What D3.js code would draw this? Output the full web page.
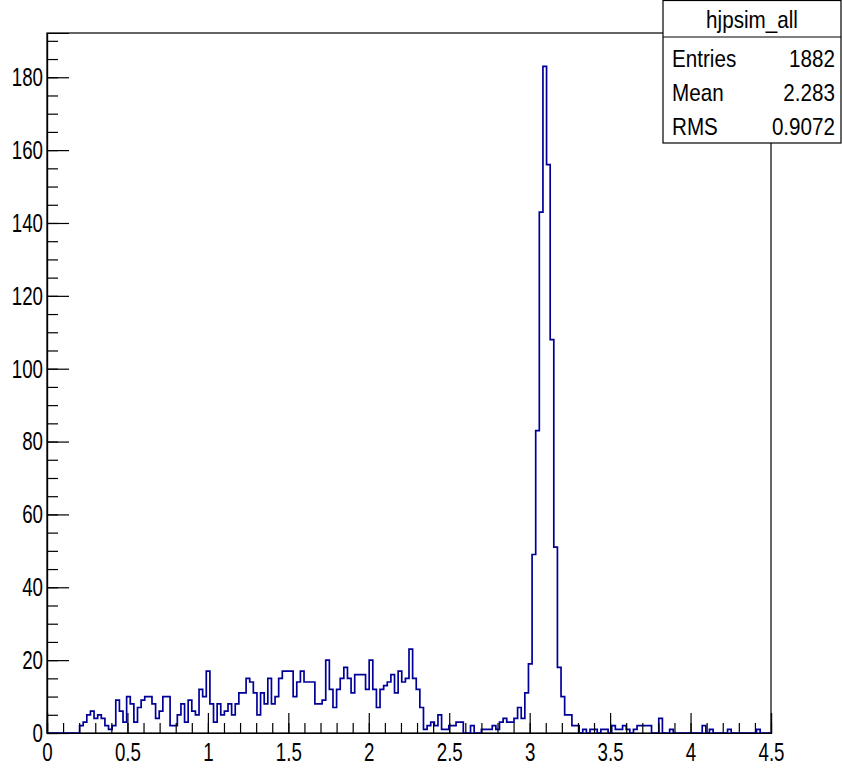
<!DOCTYPE html>
<html>
<head>
<meta charset="utf-8">
<script src="https://cdn.jsdelivr.net/npm/d3@7"></script>
<style>
  html, body { margin: 0; padding: 0; background: #ffffff; }
  svg { display: block; }
  text { font-family: "Liberation Sans", Arial, Helvetica, sans-serif; fill: #000; }
</style>
</head>
<body>
<svg id="chart" width="842" height="768"></svg>
<script>
// Histogram hjpsim_all: 200 bins on [0, 4.5]
const histName = "hjpsim_all";
const xRange = [0, 4.5];
const nBins = 200;
const binCounts = [
  0, 0, 0, 0, 0, 0, 0, 0, 0, 2,
  3, 5, 6, 4, 5, 4, 2, 1, 2, 9,
  6, 3, 10, 8, 3, 7, 9, 10, 10, 8,
  4, 6, 10, 10, 2, 2, 5, 8, 3, 9,
  6, 5, 12, 10, 17, 8, 3, 8, 5, 6,
  8, 5, 8, 11, 11, 15, 14, 11, 5, 11,
  8, 15, 8, 10, 15, 17, 17, 17, 10, 14,
  17, 14, 14, 14, 8, 8, 9, 20, 12, 7,
  12, 15, 18, 15, 11, 16, 16, 16, 12, 20,
  12, 7, 12, 13, 14, 16, 11, 17, 14, 15,
  23, 15, 12, 7, 1, 2, 3, 2, 5, 1,
  1, 2, 2, 3, 3, 0, 0, 2, 0, 0,
  1, 1, 1, 2, 1, 3, 4, 3, 3, 4,
  7, 4, 11, 19, 49, 83, 143, 183, 156, 108,
  51, 18, 10, 5, 5, 2, 2, 0, 1, 0,
  1, 1, 0, 1, 1, 0, 2, 1, 1, 2,
  1, 0, 1, 2, 2, 2, 2, 0, 0, 4,
  0, 0, 1, 0, 0, 0, 0, 0, 0, 0,
  0, 2, 0, 1, 0, 0, 0, 0, 1, 0,
  0, 0, 0, 0, 0, 0, 1, 0, 0, 0
];

// Axis tick values
const xMajorTicks = [0, 0.5, 1, 1.5, 2, 2.5, 3, 3.5, 4, 4.5];
const xMinorTicks = d3.range(0, 45).map(i => i / 10);
const yMajorTicks = [0, 20, 40, 60, 80, 100, 120, 140, 160, 180];
const yMinorTicks = d3.range(0, 39).map(i => i * 5);

// Statistics box
const statLabels = ["Entries", "Mean", "RMS"];
const statValues = ["1882", "2.283", "0.9072"];

const frame = { left: 47, right: 771, top: 33, bottom: 733 };
const yMax = d3.max(binCounts) * 1.05;
const lineColor = "#000099";
const labelScaleX = 0.72;
const statScaleX = 0.86;

const svg = d3.select("#chart");

const x = d3.scaleLinear().domain(xRange).range([frame.left, frame.right]);
const y = d3.scaleLinear().domain([0, yMax]).range([frame.bottom, frame.top]);

// Frame
svg.append("rect")
  .attr("x", frame.left).attr("y", frame.top)
  .attr("width", frame.right - frame.left)
  .attr("height", frame.bottom - frame.top)
  .attr("fill", "none").attr("stroke", "#000").attr("stroke-width", 1.2);

// Histogram outline as a step path
const binWidth = (xRange[1] - xRange[0]) / nBins;
const pts = [[xRange[0], 0]];
binCounts.forEach((c, i) => {
  const lo = xRange[0] + i * binWidth;
  pts.push([lo, c], [lo + binWidth, c]);
});
pts.push([xRange[1], 0]);

svg.append("path")
  .datum(pts)
  .attr("fill", "none")
  .attr("stroke", lineColor)
  .attr("stroke-width", 1.7)
  .attr("stroke-linejoin", "miter")
  .attr("d", d3.line().x(d => x(d[0])).y(d => y(d[1])));

// X axis: minor ticks, then major ticks with labels (ticks point into the frame)
const xMinor = svg.append("g")
  .attr("transform", `translate(0,${frame.bottom})`)
  .call(d3.axisBottom(x).tickValues(xMinorTicks).tickSize(-10).tickFormat(""));
const xMajor = svg.append("g")
  .attr("transform", `translate(0,${frame.bottom})`)
  .call(d3.axisBottom(x).tickValues(xMajorTicks).tickSize(-20).tickPadding(10)
    .tickFormat(d3.format("")));

// Y axis
const yMinor = svg.append("g")
  .attr("transform", `translate(${frame.left},0)`)
  .call(d3.axisLeft(y).tickValues(yMinorTicks).tickSize(-11).tickFormat(""));
const yMajor = svg.append("g")
  .attr("transform", `translate(${frame.left},0)`)
  .call(d3.axisLeft(y).tickValues(yMajorTicks).tickSize(-22).tickPadding(4)
    .tickFormat(d3.format("")));

[xMinor, xMajor, yMinor, yMajor].forEach(g => {
  g.select(".domain").attr("stroke", "#000").attr("stroke-width", 1.2);
  g.selectAll(".tick line").attr("stroke", "#000").attr("stroke-width", 1.2);
});

xMajor.selectAll(".tick text")
  .attr("font-size", 26)
  .attr("font-family", "Liberation Sans, Arial, sans-serif")
  .attr("transform", `scale(${labelScaleX},1)`);
yMajor.selectAll(".tick text")
  .attr("font-size", 26)
  .attr("font-family", "Liberation Sans, Arial, sans-serif")
  .attr("x", -4 / labelScaleX)
  .attr("transform", `scale(${labelScaleX},1)`);

// Statistics box
const box = { x0: 663, x1: 841, y0: 0.5, y1: 143, sep: 37 };
const stats = svg.append("g");
stats.append("rect")
  .attr("x", box.x0).attr("y", box.y0)
  .attr("width", box.x1 - box.x0).attr("height", box.y1 - box.y0)
  .attr("fill", "#fff").attr("stroke", "#000").attr("stroke-width", 1.2);
stats.append("line")
  .attr("x1", box.x0).attr("x2", box.x1)
  .attr("y1", box.sep).attr("y2", box.sep)
  .attr("stroke", "#000").attr("stroke-width", 1.2);

const cx = (box.x0 + box.x1) / 2;
stats.append("text")
  .attr("transform", `translate(${cx},28) scale(${statScaleX},1)`)
  .attr("text-anchor", "middle")
  .attr("font-size", 24)
  .text(histName);

const rowBase = [67, 101, 135];
statLabels.forEach((lab, i) => {
  stats.append("text")
    .attr("transform", `translate(672,${rowBase[i]}) scale(${statScaleX},1)`)
    .attr("font-size", 24)
    .text(lab);
  stats.append("text")
    .attr("transform", `translate(835,${rowBase[i]}) scale(${statScaleX},1)`)
    .attr("text-anchor", "end")
    .attr("font-size", 24)
    .text(statValues[i]);
});
</script>
</body>
</html>
